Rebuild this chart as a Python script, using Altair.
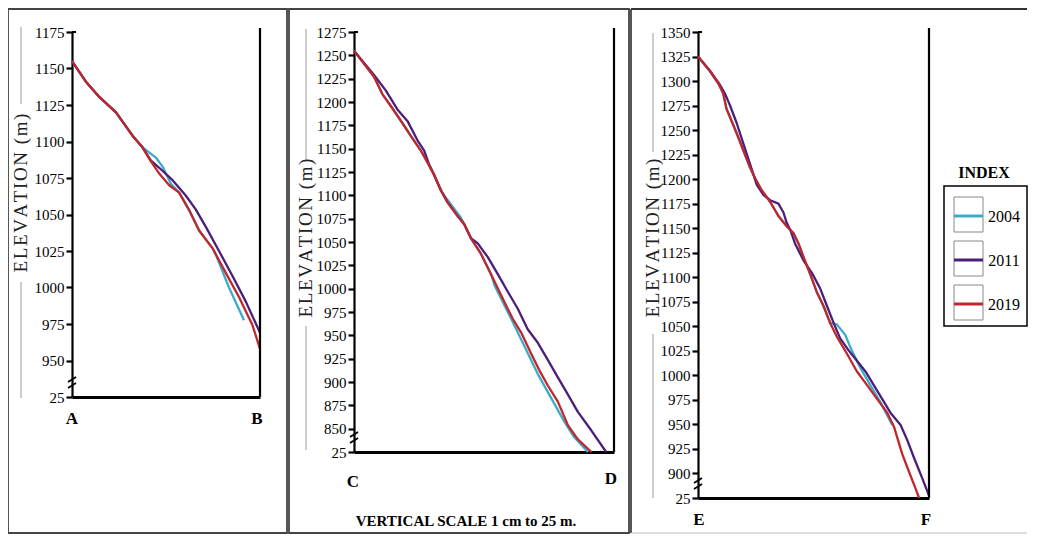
import altair as alt
import pandas as pd

YEARS = ["2004", "2011", "2019"]
COLORS = ["#3eaac8", "#4a1f7a", "#c0272d"]

# ---------- Profile A-B ----------
P1_D_2004 = [0, 7.4, 14.5, 23.4, 32.2, 37.5, 41.0, 44.6, 48.1, 52.6, 57.0, 62.3, 67.6, 74.7, 76.5, 83.5, 91.5]
P1_E_2004 = [1155, 1141, 1130.5, 1120, 1104, 1096, 1092.5, 1089, 1083, 1071, 1065, 1053, 1039, 1027, 1022.5, 1000, 977.5]
P1_D_2011 = [0, 7.4, 14.5, 23.4, 32.2, 37.5, 41.9, 46.4, 53.5, 60.5, 65.8, 71.2, 78.2, 85.3, 92.4, 100]
P1_E_2011 = [1155, 1141, 1130.5, 1120, 1104, 1096, 1087, 1082, 1073.5, 1063, 1053.5, 1041.5, 1025, 1008, 990.5, 969]
P1_D_2019 = [0, 7.4, 14.5, 23.4, 32.2, 37.5, 41.9, 46.4, 51.7, 57.0, 62.3, 67.6, 74.7, 81.8, 88.8, 95.9, 100]
P1_E_2019 = [1155, 1141, 1130.5, 1120, 1104, 1096, 1086.5, 1078, 1070, 1065, 1053, 1039, 1027, 1010, 993.5, 974.5, 958]
P1_TICKS = list(range(925, 1176, 25))

# ---------- Profile C-D ----------
P2_D_2004 = [0, 7.7, 10.9, 14.1, 18.6, 22.5, 25.7, 28.3, 30.8, 33.4, 34.7, 41.1, 42.4, 45.0, 48.8, 52.7, 54.2, 57.8, 61.1, 65.6, 70.7, 75.8, 81.0, 84.8, 90.0]
P2_E_2004 = [1255, 1227, 1208.5, 1196, 1177.5, 1161, 1148, 1135, 1122, 1105.5, 1100, 1076, 1069, 1054, 1037.5, 1015.5, 1002.5, 982.5, 964, 938, 908.5, 883, 857, 840.5, 825]
P2_D_2011 = [0, 7.7, 12.2, 16.7, 20.6, 24.4, 27.0, 28.9, 30.8, 33.4, 36.0, 39.8, 42.4, 45.0, 47.6, 51.4, 55.3, 59.1, 63.0, 66.8, 70.7, 74.6, 78.4, 82.3, 86.1, 91.3, 97.0]
P2_E_2011 = [1255, 1229, 1212.5, 1192, 1179.5, 1159, 1148, 1133, 1122, 1105.5, 1092.5, 1078, 1069, 1054, 1048.5, 1034, 1015.5, 997, 978.5, 956.5, 942, 923.5, 905, 886.5, 868, 848, 825]
P2_D_2019 = [0, 7.7, 10.9, 14.1, 18.6, 22.5, 25.7, 28.3, 30.8, 33.4, 36.0, 39.8, 42.4, 45.0, 48.8, 52.7, 54.6, 57.8, 61.1, 64.3, 68.1, 71.3, 74.6, 78.4, 82.3, 86.1, 91.3]
P2_E_2019 = [1255, 1227, 1208.5, 1196, 1177.5, 1161, 1148, 1135, 1122, 1105.5, 1092.5, 1078, 1069, 1054, 1037.5, 1015.5, 1004.5, 986, 967.5, 953, 930.5, 912.5, 896, 879, 853.5, 838.5, 825]
P2_TICKS = list(range(825, 1276, 25))

# ---------- Profile E-F ----------
P3_D_2004 = [0, 5.1, 8.7, 10.9, 12.3, 14.5, 16.7, 19.6, 22.5, 24.6, 27.5, 31.2, 34.8, 38.4, 41.3, 43.5, 45.7, 48.6, 51.4, 54.3, 57.2, 60.1, 63.8, 65.9, 70.3, 74.6, 79.0, 84.1]
P3_E_2004 = [1325, 1310.5, 1298, 1287.5, 1272, 1259.5, 1247, 1229.5, 1212, 1201.5, 1189, 1177, 1162.5, 1152, 1145, 1134.5, 1120.5, 1103, 1085, 1071, 1053.5, 1052, 1041, 1029, 1007.5, 990, 972.5, 949.5]
P3_D_2011 = [0, 5.1, 9.4, 11.6, 13.8, 16.7, 19.6, 22.5, 25.4, 28.3, 31.2, 34.8, 37.0, 38.4, 39.9, 42.0, 45.7, 49.3, 52.9, 55.8, 58.7, 61.6, 65.2, 68.8, 72.5, 76.1, 79.7, 83.3, 87.7, 90.6, 93.5, 97.1, 100]
P3_E_2011 = [1325, 1310.5, 1296.5, 1287.5, 1275.5, 1257.5, 1236.5, 1215.5, 1194.5, 1184, 1178.5, 1175, 1166, 1155.5, 1148.5, 1134.5, 1117, 1104.5, 1088.5, 1071, 1053.5, 1037.5, 1025.5, 1015, 1004, 990, 976, 962, 949.5, 934, 916, 895, 877.5]
P3_D_2019 = [0, 5.1, 8.7, 10.9, 12.3, 14.5, 16.7, 19.6, 22.5, 24.6, 27.5, 31.2, 34.8, 38.4, 41.3, 43.5, 45.7, 48.6, 51.4, 54.3, 57.2, 60.1, 64.5, 68.8, 73.2, 77.5, 81.9, 84.8, 86.2, 88.4, 91.3, 94.2, 95.7]
P3_E_2019 = [1325, 1310.5, 1298, 1287.5, 1272, 1259.5, 1247, 1229.5, 1212, 1201.5, 1189, 1177, 1162.5, 1152, 1145, 1134.5, 1120.5, 1103, 1085, 1071, 1053.5, 1039.5, 1022, 1004, 990, 976, 962, 948, 937, 920, 902, 884.5, 875]
P3_TICKS = list(range(875, 1351, 25))

SERIF = "Liberation Serif"
FRAME = "#444444"
ONE = pd.DataFrame({"k": [0]})
HAIR = "\u200a"
YTITLE = HAIR.join("ELEVATION (m)")


def deco():
    return alt.Chart(ONE)


def text(s, x, y, size=17, bold=True, angle=0, color="black"):
    kw = dict(text=s, font=SERIF, fontSize=size, align="center", baseline="middle", color=color)
    if bold:
        kw["fontWeight"] = "bold"
    if angle:
        kw["angle"] = angle
    return deco().mark_text(**kw).encode(x=alt.value(x), y=alt.value(y))


def rule(x, y, x2=None, y2=None, color="black", width=2.0):
    enc = dict(x=alt.value(x), y=alt.value(y))
    if x2 is not None:
        enc["x2"] = alt.value(x2)
    if y2 is not None:
        enc["y2"] = alt.value(y2)
    return deco().mark_rule(color=color, strokeWidth=width).encode(**enc)


def panel(series, lo, hi, ticks, W, H, frame, labs, title_x, title_cy, gray, extras, open_right=False):
    xenc = alt.X("dist:Q", scale=alt.Scale(domain=[0, 100], nice=False, zero=False),
                 axis=alt.Axis(labels=False, ticks=False, title=None, grid=False,
                               domainColor="black", domainWidth=2.8))
    yenc = alt.Y("elev:Q", scale=alt.Scale(domain=[lo, hi], nice=False, zero=False),
                 axis=alt.Axis(values=ticks, format="d", title=None, grid=False,
                               labelExpr=f"datum.value == {lo} ? '25' : datum.label",
                               labelOverlap=False))
    cenc = alt.Color("year:N", scale=alt.Scale(domain=YEARS, range=COLORS), legend=None)
    layers = []
    fx1, fx2, fy1, fy2 = frame
    if open_right:
        layers += [rule(fx1, fy1, x2=fx2, color="#333333", width=2.0),
                   rule(fx1, fy1, y2=fy2, color=FRAME, width=1.8),
                   rule(fx1, fy2, x2=fx2, color="#bbbbbb", width=1.2)]
    else:
        layers.append(deco().mark_rect(filled=False, stroke=FRAME, strokeWidth=1.8).encode(
            x=alt.value(fx1), x2=alt.value(fx2), y=alt.value(fy1), y2=alt.value(fy2)))
    for (g1, g2) in gray:
        layers.append(rule(title_x, g1, y2=g2, color="#9a9a9a", width=1.0))
    layers.append(text(YTITLE, title_x, title_cy, size=19, bold=False, angle=270, color="#222222"))
    for (d, e, yr) in series:
        df = pd.DataFrame({"dist": d, "elev": e, "year": yr})
        layers.append(alt.Chart(df).mark_line(strokeWidth=2.3, strokeJoin="round").encode(
            x=xenc, y=yenc, color=cenc))
    # right vertical line and small hook at the top of the elevation axis
    layers.append(rule(W, -4, y2=H, width=2.2))
    layers.append(rule(0, 0, x2=4, width=2.0))
    # axis break marks
    layers.append(rule(-4, H - 9, x2=4, y2=H - 14, width=1.8))
    layers.append(rule(-4, H - 15, x2=4, y2=H - 20, width=1.8))
    for (s, x, y) in labs:
        layers.append(text(s, x, y, size=17))
    layers += extras
    return alt.layer(*layers).properties(width=W, height=H)


TOP = -23
BOT = 501

p1 = panel(
    [(P1_D_2004, P1_E_2004, "2004"), (P1_D_2011, P1_E_2011, "2011"), (P1_D_2019, P1_E_2019, "2019")],
    925, 1175, P1_TICKS, 188, 365, (-64, 215, TOP, BOT),
    [("A", 0, 387), ("B", 185, 387)], -51, 161, [(-5, 72), (250, 366)], [])

p2 = panel(
    [(P2_D_2004, P2_E_2004, "2004"), (P2_D_2011, P2_E_2011, "2011"), (P2_D_2019, P2_E_2019, "2019")],
    825, 1275, P2_TICKS, 260, 420, (-65, 275, TOP, BOT),
    [("C", -1, 450), ("D", 257, 447)], -48, 206, [(-3, 128), (294, 418)],
    [text("VERTICAL SCALE 1 cm to 25 m.", 112, 489, size=15)])

legend_layers = [
    text("INDEX", 286, 141, size=16),
    deco().mark_rect(filled=False, stroke="black", strokeWidth=1.5).encode(
        x=alt.value(246), x2=alt.value(329), y=alt.value(154), y2=alt.value(294)),
]
BOX_TOPS = [165, 209, 253]
for i, (yr, col) in enumerate(zip(YEARS, COLORS)):
    t = BOX_TOPS[i]
    legend_layers.append(deco().mark_rect(filled=False, stroke="#888888", strokeWidth=1).encode(
        x=alt.value(256), x2=alt.value(285), y=alt.value(t), y2=alt.value(t + 35)))
    legend_layers.append(rule(256, t + 19, x2=285, color=col, width=3))
    legend_layers.append(text(yr, 306, t + 20, size=16, bold=False))

p3 = panel(
    [(P3_D_2004, P3_E_2004, "2004"), (P3_D_2011, P3_E_2011, "2011"), (P3_D_2019, P3_E_2019, "2019")],
    875, 1350, P3_TICKS, 231, 466, (-67, 329, TOP, BOT),
    [("E", 1, 488), ("F", 228, 488)], -45, 206, [(1, 120), (302, 466)], legend_layers,
    open_right=True)

chart = alt.hconcat(p1, p2, p3, spacing=0).properties(
    padding={"left": -1, "top": 0, "right": 0, "bottom": 0}
).configure_view(stroke=None).configure_axis(
    labelFont=SERIF, labelFontSize=15, labelColor="black", labelPadding=2,
    tickColor="black", tickWidth=2.2, tickSize=6,
    domainColor="black", domainWidth=2.2
)

chart.save("out.html", embed_options={"renderer": "svg", "actions": False})
